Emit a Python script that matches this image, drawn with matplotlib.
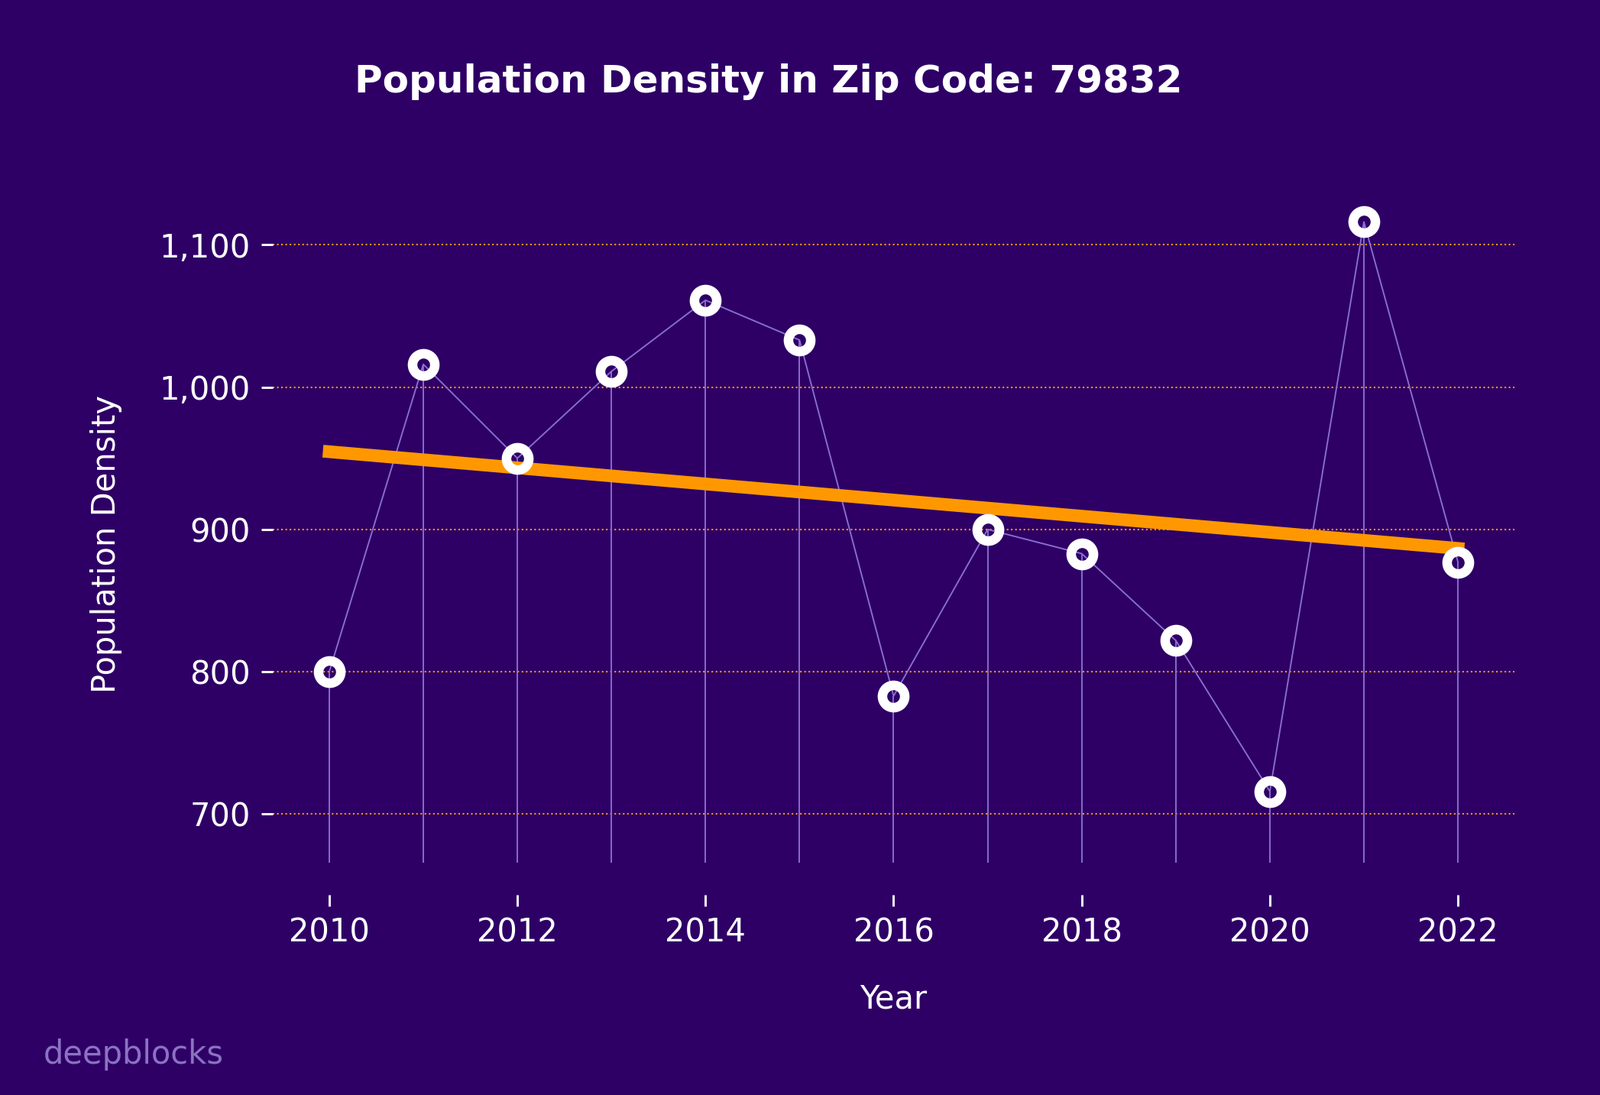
import numpy as np
import matplotlib
matplotlib.use("Agg")
import matplotlib.pyplot as plt
from matplotlib.ticker import FuncFormatter

# 데이터
years = [2010, 2011, 2012, 2013, 2014, 2015, 2016, 2017, 2018, 2019, 2020, 2021, 2022]
density = [800, 1016, 950, 1011, 1061, 1033, 783, 900, 883, 822, 716, 1116, 877]

bg = "#2e0066"
purple = "#8a70d0"
orange = "#ff9800"

fig = plt.figure(figsize=(2094 / 300, 1433 / 300), dpi=300, facecolor=bg)
ax = fig.add_axes([0.1705, 0.2121, 0.776, 0.6288], facecolor=bg)

x = np.array(years)
y = np.array(density)
ymin = y.min() * 0.93
ymax = y.max() * 1.03

# 세로 줄기
ax.vlines(x, ymin, y, color=purple, lw=0.45, zorder=2)
# 연결선
ax.plot(x, y, color=purple, lw=0.45, zorder=3)
# 추세선
slope, intercept = np.polyfit(x, y, 1)
ax.plot(x, slope * x + intercept, color=orange, lw=4, zorder=4)
# 마커
ax.plot(x, y, ls="none", marker="o", ms=7, mew=3, mfc="none", mec="white", zorder=5, clip_on=False)

ax.set_ylim(ymin, ymax)
ax.set_xlim(2009.4, 2022.6)
ax.set_xticks(range(2010, 2023, 2))
ax.set_yticks([700, 800, 900, 1000, 1100])
ax.yaxis.set_major_formatter(FuncFormatter(lambda v, p: f"{int(v):,}"))

ax.grid(axis="y", color=orange, ls=":", lw=0.5)
ax.set_axisbelow(True)
for s in ax.spines.values():
    s.set_visible(False)
ax.spines["bottom"].set_position(("outward", 10))
ax.tick_params(colors="white", labelsize=10, length=3.5, width=0.7)

ax.set_xlabel("Year", color="white", fontsize=10)
ax.set_ylabel("Population Density", color="white", fontsize=10)
ax.xaxis.set_label_coords(0.5, -0.175)
ax.yaxis.set_label_coords(-0.121, 0.463)

fig.text(0.4804, 0.925, "Population Density in Zip Code: 79832", color="white",
         fontsize=12, fontweight="bold", ha="center", va="center")
fig.text(0.027, 0.037, "deepblocks", color="#8c72c2", fontsize=10, ha="left", va="center")

fig.savefig("out.png", dpi=300, facecolor=bg)
